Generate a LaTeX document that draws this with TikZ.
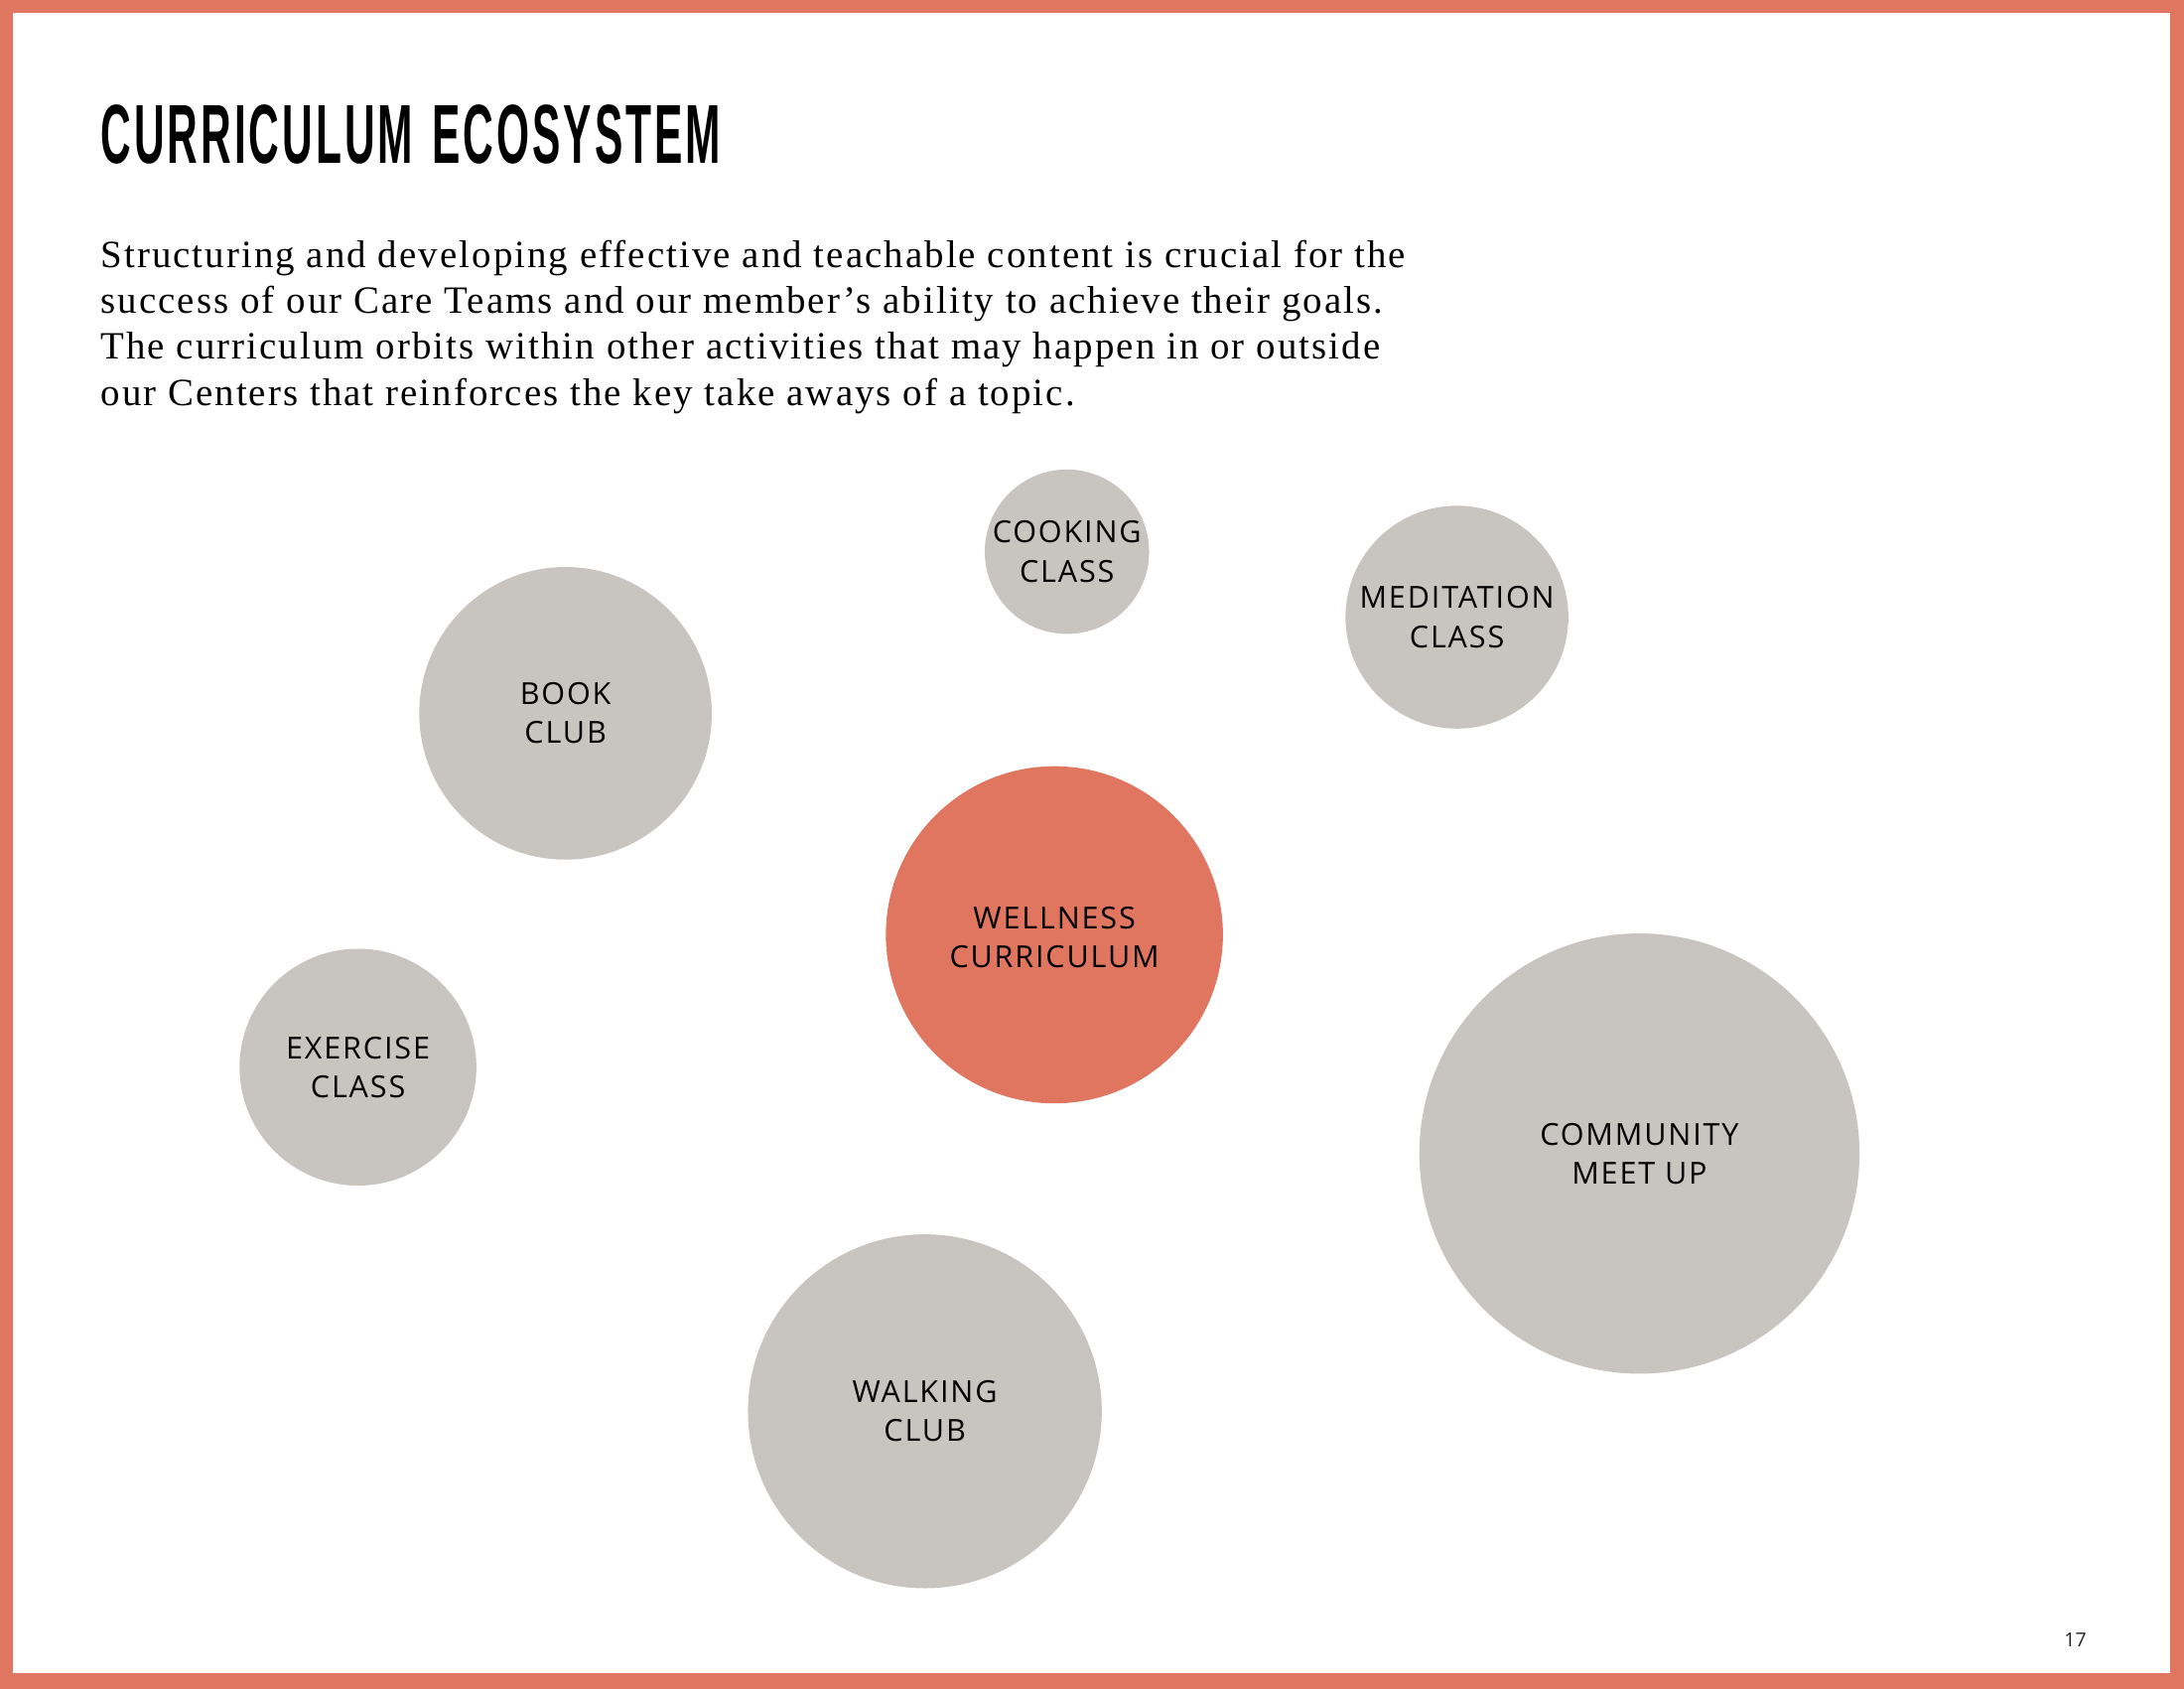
\documentclass[tikz,border=0pt]{standalone}
\usepackage{fontspec}
\setmainfont{Liberation Serif}
\newfontfamily\introfont[LetterSpace=5.3]{Liberation Serif}
\newfontfamily\labelfont[LetterSpace=6]{Open Sans}
\newfontfamily\titlefont[LetterSpace=7]{Liberation Sans}
\newfontfamily\pagefont{Open Sans}
\definecolor{framecol}{HTML}{E07660}
\definecolor{bubblegray}{HTML}{C8C4C0}
\definecolor{coreorange}{HTML}{E07660}
\tikzset{
  bubble/.style={circle, fill=bubblegray, draw=none, inner sep=0pt, minimum size={2*#1*0.5051pt}},
  corebubble/.style={circle, fill=coreorange, draw=none, inner sep=0pt, minimum size={2*#1*0.5051pt}},
  lbl/.style={align=center, inner sep=0pt, text=black, font=\labelfont\fontsize{11}{14.1}\selectfont},
  introline/.style={anchor=base west, inner sep=0pt, font=\introfont\fontsize{14}{16.7}\selectfont},
}
\begin{document}
\begin{tikzpicture}[x=0.5051pt, y=-0.5051pt]
\useasboundingbox (0,0) rectangle (1568,1212);
\fill[framecol] (0,0) rectangle (1568,1212);
\fill[white] (9,9.5) rectangle (1558,1201);

\node[anchor=base west, inner sep=0pt] (title) at (72,117)
  {\resizebox{224.8pt}{21.2pt}{\titlefont\bfseries CURRICULUM\hspace{0.45em}ECOSYSTEM}};

\node[introline] (p1) at (72,192) {Structuring and developing effective and teachable content is crucial for the};
\node[introline] (p2) at (72,225) {success of our Care Teams and our member’s ability to achieve their goals.};
\node[introline] (p3) at (72,258) {The curriculum orbits within other activities that may happen in or outside};
\node[introline] (p4) at (72,291) {our Centers that reinforces the key take aways of a topic.};

\node[bubble=59]  (cook)  at (766,396) {};
\node[bubble=80]  (medit) at (1046,443) {};
\node[bubble=105] (book)  at (406,512) {};
\node[corebubble=121] (well) at (757,671) {};
\node[bubble=85]  (exer)  at (257,766) {};
\node[bubble=158] (comm)  at (1177,828) {};
\node[bubble=127] (walk)  at (664,1013) {};

\node[lbl] (cookt)  at (cook)  {COOKING\\CLASS};
\node[lbl] (meditt) at (medit) {MEDITATION\\CLASS};
\node[lbl] (bookt)  at (book)  {BOOK\\CLUB};
\node[lbl] (wellt)  at ([yshift=-1pt]well) {WELLNESS\\CURRICULUM};
\node[lbl] (exert)  at (exer)  {EXERCISE\\CLASS};
\node[lbl] (commt)  at (comm)  {COMMUNITY\\MEET UP};
\node[lbl] (walkt)  at (walk)  {WALKING\\CLUB};

\node[inner sep=0pt, font=\pagefont\fontsize{7}{8}\selectfont, text=black!85] (pagenum) at (1490,1177) {17};
\end{tikzpicture}
\end{document}
